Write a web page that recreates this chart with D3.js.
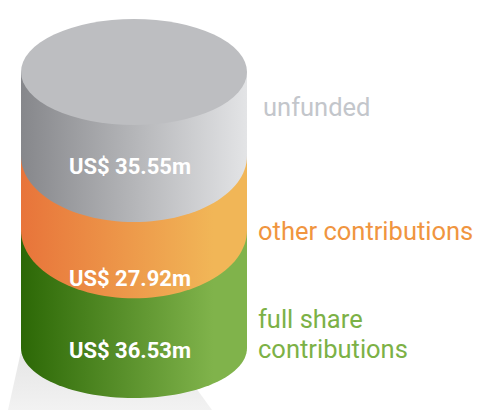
<!DOCTYPE html>
<html>
<head>
<meta charset="utf-8">
<script src="https://cdn.jsdelivr.net/npm/d3@7"></script>
<style>
  html, body { margin: 0; padding: 0; background: #fff; }
  svg { display: block; font-family: Roboto, "Open Sans", sans-serif; }
</style>
</head>
<body>
<div id="chart"></div>
<script>
// data, top layer first
const categories = ["unfunded", "other contributions", "full share contributions"];
const values = [35.55, 27.92, 36.53];
const legendLines = [["unfunded"], ["other contributions"], ["full share", "contributions"]];

// styles
const sideLeft = ["#86878b", "#e8743a", "#2c6806"];
const sideRight = ["#e3e4e6", "#f1b657", "#80b34b"];
const legendColor = ["#c3c6cb", "#f0953f", "#7cb146"];
const topFill = "#bdbec1";
const bottomRy = [66, 68, 50];   // ellipse height at the bottom of each layer
const labelUp = [48, 12, 40];    // label baseline above the front of the layer bottom
const legendY = [116, 240, 328];

const W = 480, H = 410;
const cx = 134, rx = 113, topRy = 53;

const svg = d3.select("#chart").append("svg")
  .attr("width", W).attr("height", H);

const defs = svg.append("defs");
categories.forEach((c, i) => {
  const g = defs.append("linearGradient")
    .attr("id", "grad" + i)
    .attr("x1", 0).attr("x2", 1).attr("y1", 0).attr("y2", 0);
  g.append("stop").attr("offset", "0%").attr("stop-color", sideLeft[i]);
  g.append("stop").attr("offset", i === 0 ? "100%" : "85%").attr("stop-color", sideRight[i]);
});
const sh = defs.append("linearGradient").attr("id", "shadow")
  .attr("x1", 0).attr("x2", 0).attr("y1", 0).attr("y2", 1);
sh.append("stop").attr("offset", "0%").attr("stop-color", "#e2e2e2");
sh.append("stop").attr("offset", "100%").attr("stop-color", "#f2f2f2");

// cumulative positions from the top
const total = d3.sum(values);
const cum = [0];
values.forEach((v, i) => cum.push(cum[i] + v));

// y of the front edge of each boundary
const y = d3.scaleLinear().domain([0, total]).range([125, 398]);

const layers = categories.map((c, i) => {
  const topCy = i === 0 ? y(0) - topRy : y(cum[i]) - bottomRy[i - 1];
  const botFront = y(cum[i + 1]);
  const ry = bottomRy[i];
  return { c, i, v: values[i], topCy, botCy: botFront - ry, ry, botFront };
});

// shadow on the floor
svg.append("path")
  .attr("d", "M24,338 L8,410 L212,410 L196,388 Z")
  .attr("fill", "url(#shadow)");

// draw bottom layer first so upper layers overlap
const sides = svg.append("g");
layers.slice().reverse().forEach(d => {
  const x0 = cx - rx, x1 = cx + rx;
  const p = d3.path();
  p.moveTo(x0, d.topCy);
  p.lineTo(x0, d.botCy);
  // front half of the bottom ellipse
  const n = 60;
  for (let k = 0; k <= n; k++) {
    const a = Math.PI - Math.PI * k / n;
    p.lineTo(cx + rx * Math.cos(a), d.botCy + d.ry * Math.sin(a));
  }
  p.lineTo(x1, d.topCy);
  p.closePath();
  sides.append("path").attr("d", p.toString()).attr("fill", "url(#grad" + d.i + ")");
});

// top face
svg.append("ellipse")
  .attr("cx", cx).attr("cy", y(0) - topRy)
  .attr("rx", rx).attr("ry", topRy)
  .attr("fill", topFill);

// value labels
const fmt = d3.format(".2f");
svg.append("g").selectAll("text")
  .data(layers)
  .join("text")
  .attr("x", 130)
  .attr("y", d => d.botFront - labelUp[d.i])
  .attr("text-anchor", "middle")
  .attr("fill", "#fff")
  .attr("font-size", 22)
  .attr("font-weight", 700)
  .text(d => "US$ " + fmt(d.v) + "m");

// legend
const leg = svg.append("g").selectAll("text")
  .data(layers)
  .join("text")
  .attr("x", d => d.i === 0 ? 263 : 258)
  .attr("y", d => legendY[d.i])
  .attr("fill", d => legendColor[d.i])
  .attr("font-size", 25.5);
leg.selectAll("tspan")
  .data(d => legendLines[d.i].map((t, k) => ({ t, k, x: d.i === 0 ? 263 : 258 })))
  .join("tspan")
  .attr("x", t => t.x)
  .attr("dy", t => t.k === 0 ? 0 : 30)
  .text(t => t.t);
</script>
</body>
</html>
